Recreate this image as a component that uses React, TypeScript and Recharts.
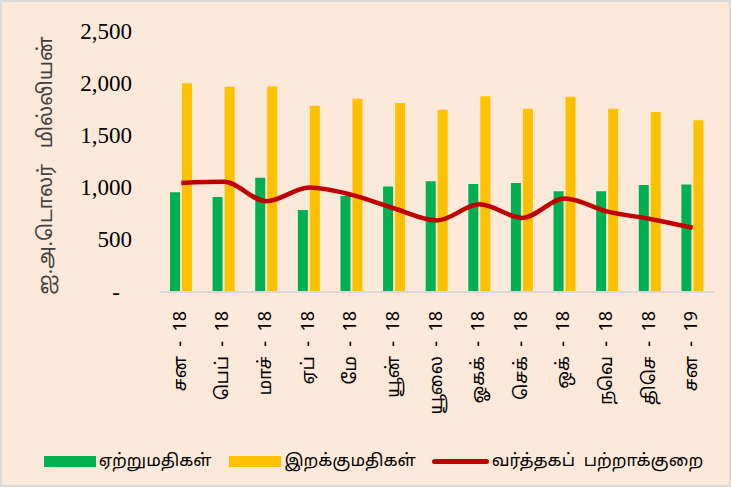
import React from "react";
import { ComposedChart, Bar, Line, XAxis, YAxis } from "recharts";

// மாதங்கள் (2018 சன – 2019 சன)
const months = ["சன - 18", "பெப் - 18", "மாச் - 18", "ஏப் - 18", "மே - 18", "யூன் - 18", "யூலை - 18", "ஓகக் - 18", "செக் - 18", "ஒக் - 18", "நவெ - 18", "திசெ - 18", "சன - 19"];
const exportsVals = [955, 910, 1095, 785, 920, 1010, 1060, 1035, 1045, 965, 965, 1025, 1030];
const importsVals = [2000, 1965, 1970, 1785, 1850, 1810, 1745, 1875, 1755, 1870, 1755, 1725, 1645];
const deficitVals = [1045, 1055, 870, 1000, 930, 800, 685, 840, 710, 895, 770, 700, 615];
const yTicks = [0, 500, 1000, 1500, 2000, 2500];

const data = months.map((m, i) => ({
  month: m,
  exp: exportsVals[i],
  imp: importsVals[i],
  def: deficitVals[i],
}));

const TAMIL = "'Noto Sans Tamil', 'Noto Sans', 'Latha', sans-serif";
const SERIF = "'Liberation Serif', 'DejaVu Serif', serif";

const YTick = ({ x, y, payload }: any) => (
  <text x={payload.value === 0 ? x - 12 : x} y={y} textAnchor="end" dominantBaseline="central" fontSize={23} fontFamily={SERIF} fill="#000">
    {payload.value === 0 ? "-" : payload.value.toLocaleString("en-US")}
  </text>
);

const XTick = ({ x, y, payload }: any) => (
  <text x={x} y={y + 11} transform={`rotate(-90, ${x}, ${y + 11})`} textAnchor="end" dominantBaseline="central" fontSize={18} fontFamily={TAMIL} fill="#000" style={{ whiteSpace: "pre" }}>
    {String(payload.value).replace(" - ", "  -  ")}
  </text>
);

const YLabel = ({ viewBox }: any) => {
  const cx = 45;
  const cy = viewBox.y + viewBox.height / 2 + 4;
  return (
    <text x={cx} y={cy} transform={`rotate(-90, ${cx}, ${cy})`} textAnchor="middle" dominantBaseline="central" fontSize={20} fontFamily={TAMIL} fill="#404040" style={{ whiteSpace: "pre" }}>
      ஐ.அ.டொலர்   மில்லியன்
    </text>
  );
};

const LegendBox = () => (
  <div style={{ position: "absolute", top: 449, left: 0, width: 731, display: "flex", justifyContent: "center", alignItems: "center", fontFamily: TAMIL, fontSize: 17, color: "#000", paddingLeft: 12, boxSizing: "border-box" }}>
    <span style={{ display: "inline-block", width: 52, height: 11, background: "#00B050", marginRight: 3 }} />
    <span style={{ marginRight: 18 }}>ஏற்றுமதிகள்</span>
    <span style={{ display: "inline-block", width: 52, height: 11, background: "#FFC000", marginRight: 3 }} />
    <span style={{ marginRight: 16 }}>இறக்குமதிகள்</span>
    <span style={{ display: "inline-block", width: 57, height: 5, borderRadius: 3, background: "#C00000", marginRight: 3 }} />
    <span style={{ whiteSpace: "pre" }}>வர்த்தகப்  பற்றாக்குறை</span>
  </div>
);

export default function App() {
  return (
    <div style={{ position: "relative", width: 731, height: 487, boxSizing: "border-box", border: "2px solid #D9D9D9", background: "#FDE9D9" }}>
      <style>{`body{margin:0}`}</style>
      <ComposedChart width={727} height={483} data={data} margin={{ top: 29, right: 15, bottom: 50, left: 0 }} barGap={2} barCategoryGap="24%">
        <XAxis dataKey="month" interval={0} height={143} tickLine={false} axisLine={{ stroke: "#D9D9D9", strokeWidth: 2 }} tick={<XTick />} />
        <YAxis
          domain={[0, 2500]}
          ticks={yTicks}
          width={158}
          axisLine={false}
          tickLine={false}
          tickSize={0}
          tickMargin={28}
          tick={<YTick />}
          label={<YLabel />}
        />
        <Bar dataKey="exp" name="ஏற்றுமதிகள்" fill="#00B050" barSize={10} isAnimationActive={false} />
        <Bar dataKey="imp" name="இறக்குமதிகள்" fill="#FFC000" barSize={10} isAnimationActive={false} />
        <Line dataKey="def" name="வர்த்தகப் பற்றாக்குறை" type="monotone" stroke="#C00000" strokeWidth={4.5} dot={false} isAnimationActive={false} />
      </ComposedChart>
      <LegendBox />
    </div>
  );
}
